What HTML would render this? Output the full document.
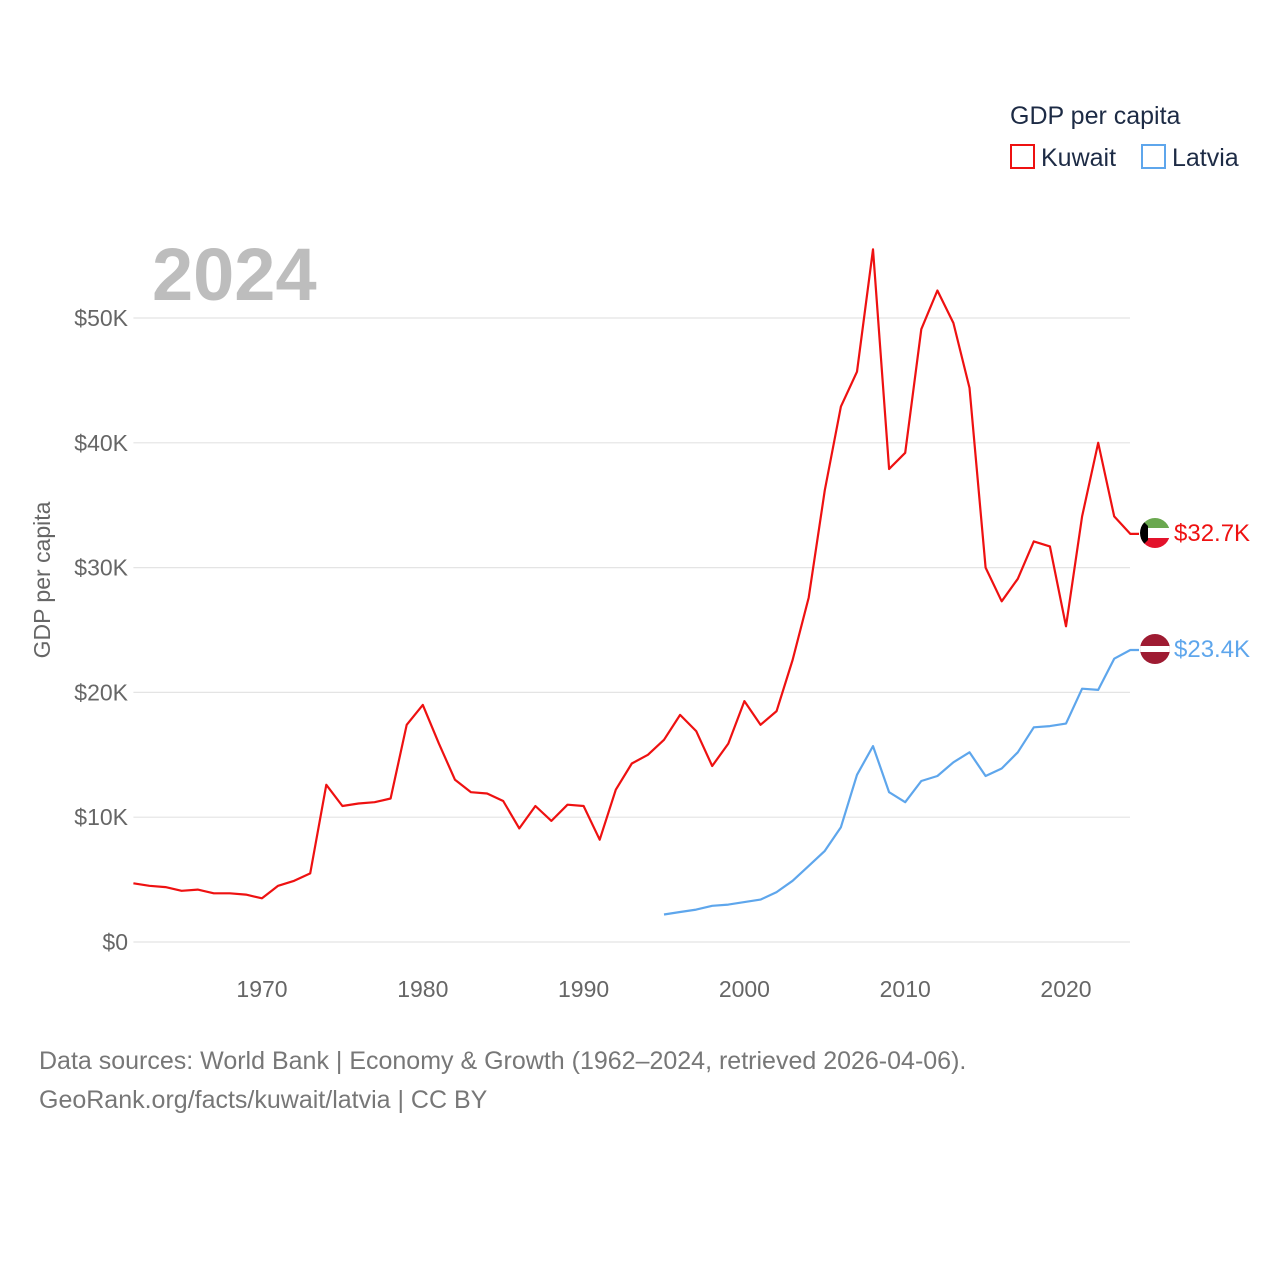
<!DOCTYPE html>
<html><head><meta charset="utf-8">
<style>
html,body{margin:0;padding:0;background:#fff;}
body{width:1280px;height:1280px;overflow:hidden;font-family:"Liberation Sans",sans-serif;}
svg text{font-family:"Liberation Sans",sans-serif;}
</style></head>
<body>
<svg id="chart" width="1280" height="1280" xmlns="http://www.w3.org/2000/svg">
  <text x="1010" y="124" font-size="25" fill="#1d2b45">GDP per capita</text>
  <rect x="1011" y="145" width="23" height="23" fill="none" stroke="#ee1111" stroke-width="2"/>
  <text x="1041" y="166" font-size="25" fill="#1d2b45">Kuwait</text>
  <rect x="1142" y="145" width="23" height="23" fill="none" stroke="#5ea6ec" stroke-width="2"/>
  <text x="1172" y="166" font-size="25" fill="#1d2b45">Latvia</text>
  <text x="152" y="300" font-size="74" font-weight="bold" fill="#bdbdbd">2024</text>
  <text transform="translate(50,580) rotate(-90)" text-anchor="middle" font-size="23" fill="#666">GDP per capita</text>
  <g id="grid"></g>
  <g id="series"></g>
  <text x="39" y="1069" font-size="25" fill="#777">Data sources: World Bank | Economy &amp; Growth (1962–2024, retrieved 2026-04-06).</text>
  <text x="39" y="1108" font-size="25" fill="#777">GeoRank.org/facts/kuwait/latvia | CC BY</text>
  <defs>
    <clipPath id="c1"><circle cx="1155" cy="533" r="15"/></clipPath>
    <clipPath id="c2"><circle cx="1155" cy="649" r="15"/></clipPath>
  </defs>
  <g clip-path="url(#c1)">
    <rect x="1140" y="518" width="30" height="10" fill="#6aa84f"/>
    <rect x="1140" y="528" width="30" height="10" fill="#fff"/>
    <rect x="1140" y="538" width="30" height="10" fill="#e3122b"/>
    <polygon points="1140,518 1148,526 1148,540 1140,548" fill="#000"/>
  </g>
  <g clip-path="url(#c2)">
    <rect x="1140" y="634" width="30" height="30" fill="#9e1b32"/>
    <rect x="1140" y="646" width="30" height="6" fill="#fff"/>
  </g>
  <text x="1174" y="541" font-size="24" fill="#ee1111">$32.7K</text>
  <text x="1174" y="657" font-size="24" fill="#5ea6ec">$23.4K</text>
</svg>
<script>
const kuwaitYears = [];
for (let y = 1962; y <= 2024; y++) kuwaitYears.push(y);
const kuwaitValues = [4.7,4.5,4.4,4.1,4.2,3.9,3.9,3.8,3.5,4.5,4.9,5.5,12.6,10.9,11.1,11.2,11.5,17.4,19.0,15.9,13.0,12.0,11.9,11.3,9.1,10.9,9.7,11.0,10.9,8.2,12.2,14.3,15.0,16.2,18.2,16.9,14.1,15.9,19.3,17.4,18.5,22.6,27.6,36.2,42.9,45.7,55.5,37.9,39.2,49.1,52.2,49.6,44.4,30.0,27.3,29.1,32.1,31.7,25.3,34.1,40.0,34.1,32.7];
const latviaYears = [];
for (let y = 1995; y <= 2024; y++) latviaYears.push(y);
const latviaValues = [2.2,2.4,2.6,2.9,3.0,3.2,3.4,4.0,4.9,6.1,7.3,9.2,13.4,15.7,12.0,11.2,12.9,13.3,14.4,15.2,13.3,13.9,15.2,17.2,17.3,17.5,20.3,20.2,22.7,23.4];
const yTicks = [0,10,20,30,40,50];
const yTickLabels = ["$0","$10K","$20K","$30K","$40K","$50K"];
const xTicks = [1970,1980,1990,2000,2010,2020];

const X0 = 133.4, X1 = 1130;
function xScale(yr){ return 262 + (yr - 1970) * 16.08; }
function yScale(v){ return 942 - v * 12.48; }
const NS = "http://www.w3.org/2000/svg";
const grid = document.getElementById('grid');
const series = document.getElementById('series');

yTicks.forEach((t,i)=>{
  const l = document.createElementNS(NS,'line');
  
  
  l.setAttribute('x1',X0); l.setAttribute('x2',X1);
  l.setAttribute('y1',yScale(t)); l.setAttribute('y2',yScale(t));
  l.setAttribute('stroke','#e4e4e4'); l.setAttribute('stroke-width','1.2');
  grid.appendChild(l);
  const tx = document.createElementNS(NS,'text');
  
  
  tx.setAttribute('x',128); tx.setAttribute('y',yScale(t)+8);
  tx.setAttribute('text-anchor','end'); tx.setAttribute('font-size','23'); tx.setAttribute('fill','#666');
  tx.textContent = yTickLabels[i];
  grid.appendChild(tx);
});
xTicks.forEach(t=>{
  const tx = document.createElementNS(NS,'text');
  
  
  tx.setAttribute('x',xScale(t)); tx.setAttribute('y',997);
  tx.setAttribute('text-anchor','middle'); tx.setAttribute('font-size','23'); tx.setAttribute('fill','#666');
  tx.textContent = t;
  grid.appendChild(tx);
});
function drawLine(years, vals, color, name){
  const p = document.createElementNS(NS,'polyline');
  
  
  const pts = years.map((y,i)=>xScale(y).toFixed(1)+','+yScale(vals[i]).toFixed(1));
  pts.push('1139,'+yScale(vals[vals.length-1]).toFixed(1));
  p.setAttribute('points', pts.join(' '));
  p.setAttribute('fill','none'); p.setAttribute('stroke',color); p.setAttribute('stroke-width','2.2');
  p.setAttribute('stroke-linejoin','round');
  series.appendChild(p);
}
drawLine(latviaYears, latviaValues, '#5ea6ec', 'latvia-line');
drawLine(kuwaitYears, kuwaitValues, '#ee1111', 'kuwait-line');
</script>
</body></html>
